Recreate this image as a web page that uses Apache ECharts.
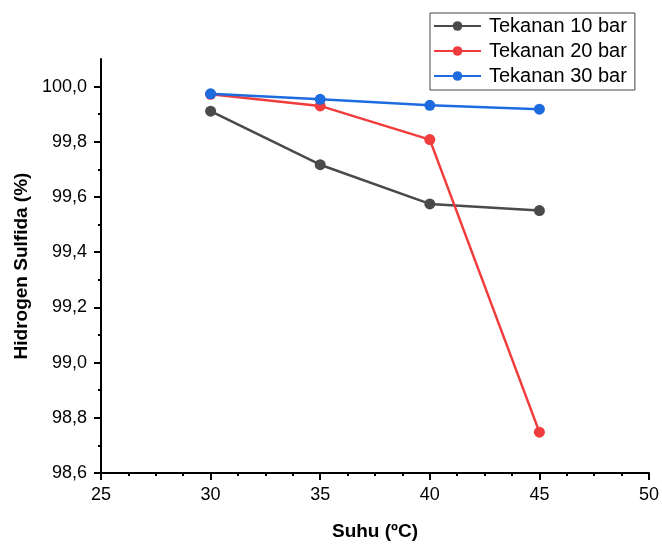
<!DOCTYPE html>
<html>
<head>
<meta charset="utf-8">
<script src="https://cdn.jsdelivr.net/npm/echarts@6/dist/echarts.min.js"></script>
<style>
  html, body { margin: 0; padding: 0; background: #fff; }
  #chart { width: 662px; height: 546px; }
</style>
</head>
<body>
<div id="chart"></div>
<script>
// suhu (°C)
const suhu = [30, 35, 40, 45];
// hidrogen sulfida (%) per tekanan
const tekanan10 = [99.911, 99.717, 99.575, 99.551];
const tekanan20 = [99.972, 99.930, 99.808, 98.748];
const tekanan30 = [99.974, 99.954, 99.932, 99.918];
const seriesNames = ['Tekanan 10 bar', 'Tekanan 20 bar', 'Tekanan 30 bar'];
const yTicks = [98.6, 98.8, 99.0, 99.2, 99.4, 99.6, 99.8, 100.0];

const colors = ['#4a4a4a', '#f03c3c', '#1e6be0'];
const font = 'Liberation Sans, Arial, sans-serif';

const toPairs = vals => suhu.map((x, i) => [x, vals[i]]);

const chart = echarts.init(document.getElementById('chart'));

chart.setOption({
  animation: false,
  grid: { left: 101, right: 11, top: 59, bottom: 66, containLabel: false },
  legend: {
    orient: 'vertical',
    left: 430,
    top: 13,
    width: 203,
    padding: [3, 8, 4, 3],
    itemGap: 5,
    itemWidth: 47,
    itemHeight: 12,
    borderColor: '#444',
    borderWidth: 1,
    textStyle: { fontFamily: font, fontSize: 20, color: '#000', padding: [0, 0, 0, 3] },
    data: seriesNames
  },
  xAxis: {
    type: 'value',
    min: 25,
    max: 50,
    interval: 5,
    name: 'Suhu (ºC)',
    nameLocation: 'middle',
    nameGap: 49,
    nameTextStyle: { fontFamily: font, fontSize: 19, fontWeight: 'bold', color: '#000' },
    axisLine: { lineStyle: { color: '#000', width: 2 } },
    axisTick: { show: true, length: 7, lineStyle: { color: '#000', width: 2 } },
    minorTick: { show: true, splitNumber: 4, length: 3, lineStyle: { color: '#000', width: 2 } },
    splitLine: { show: false },
    axisLabel: { fontFamily: font, fontSize: 18, color: '#000', margin: 13 }
  },
  yAxis: {
    type: 'value',
    min: 98.6,
    max: 100.1,
    interval: 0.2,
    name: 'Hidrogen Sulfida (%)',
    nameLocation: 'middle',
    nameGap: 70,
    nameTextStyle: { fontFamily: font, fontSize: 19, fontWeight: 'bold', color: '#000' },
    axisLine: { show: true, lineStyle: { color: '#000', width: 2 } },
    axisTick: { show: true, length: 7, customValues: yTicks, lineStyle: { color: '#000', width: 2 } },
    minorTick: { show: true, splitNumber: 2, length: 3, lineStyle: { color: '#000', width: 2 } },
    splitLine: { show: false },
    axisLabel: {
      fontFamily: font,
      fontSize: 18,
      color: '#000',
      margin: 14,
      customValues: yTicks,
      formatter: v => v.toFixed(1).replace('.', ',')
    }
  },
  series: [tekanan10, tekanan20, tekanan30].map((vals, i) => ({
    name: seriesNames[i],
    type: 'line',
    data: toPairs(vals),
    symbol: 'circle',
    symbolSize: 11,
    color: colors[i],
    lineStyle: { width: 2.5, color: colors[i] },
    itemStyle: { color: colors[i] }
  }))
});
</script>
</body>
</html>
